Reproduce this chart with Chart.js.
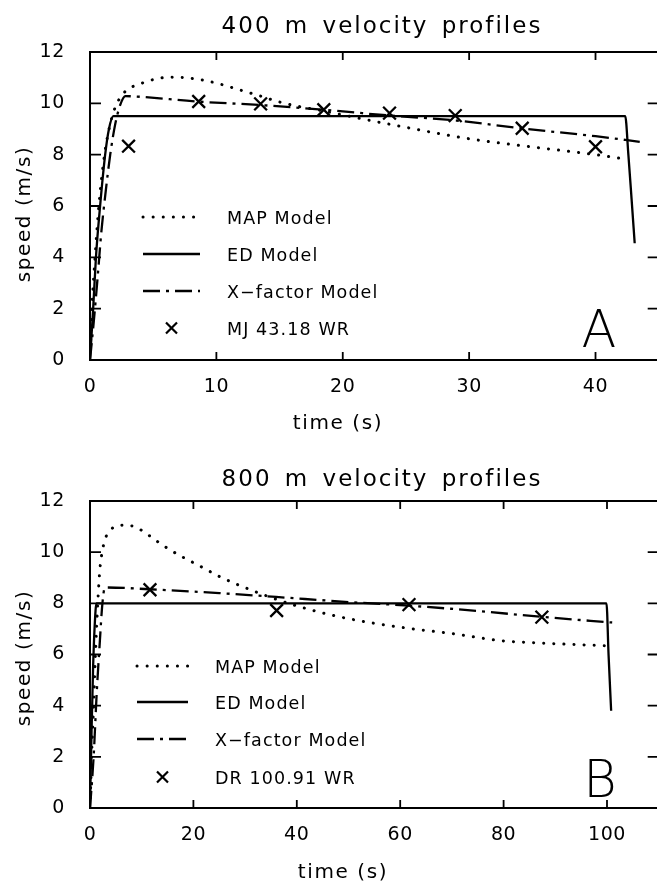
<!DOCTYPE html>
<html>
<head>
<meta charset="utf-8">
<script src="https://cdn.jsdelivr.net/npm/chart.js@4.4.1/dist/chart.umd.min.js"></script>
<style>
  html, body { margin: 0; padding: 0; overflow: hidden; background: #fff; width: 657px; height: 883px; }
  canvas { display: block; }
</style>
</head>
<body>
<canvas id="c400" width="670" height="440"></canvas>
<canvas id="c800" width="670" height="443"></canvas>
<script>
// ---- 400 m (panel A) ----
const map400Time  = [0, 0.15, 0.4, 0.7, 1.15, 1.6, 2.0, 2.5, 3.0, 3.6, 4.2, 5.2, 6.3, 7.5, 9, 10.5, 12, 13.5, 15, 16.5, 18.3, 20, 22, 24.4, 26, 28.4, 30, 32, 34, 36, 38.4, 40, 42.5];
const map400Speed = [0, 2, 4, 6, 8, 9.2, 9.85, 10.3, 10.55, 10.7, 10.8, 10.95, 11.02, 11.0, 10.9, 10.72, 10.5, 10.28, 10.05, 9.88, 9.72, 9.55, 9.35, 9.12, 8.97, 8.75, 8.62, 8.48, 8.36, 8.24, 8.1, 8.0, 7.82];
const ed400Time   = [0, 0.25, 0.47, 0.8, 1.2, 1.5, 1.85, 42.35, 42.6, 42.85, 43.1];
const ed400Speed  = [0, 2, 4, 6, 8, 9, 9.5, 9.5, 8, 6.3, 4.55];
const xf400Time   = [0, 0.3, 0.6, 0.9, 1.25, 1.6, 2.0, 2.4, 2.8, 3.5, 8.5, 13.6, 18.5, 23.8, 29, 34.2, 40, 43.5];
const xf400Speed  = [0, 1.5, 3.2, 5, 6.6, 8, 9.2, 9.95, 10.28, 10.27, 10.07, 9.93, 9.75, 9.52, 9.33, 9.02, 8.72, 8.5];
const wr400Time   = [3.05, 8.6, 13.5, 18.5, 23.7, 28.9, 34.2, 40.0];
const wr400Speed  = [8.33, 10.07, 9.98, 9.75, 9.62, 9.52, 9.03, 8.31];

// ---- 800 m (panel B) ----
const map800Time  = [0, 0.4, 0.7, 1.05, 1.5, 1.9, 2.3, 3, 4, 5.5, 7, 8.5, 10, 12.8, 15, 18, 21.8, 25, 31.4, 35, 40, 47.2, 55, 62.5, 70, 79.5, 85, 90, 95, 100];
const map800Speed = [0, 2.5, 4, 6, 8, 9.3, 9.95, 10.55, 10.88, 11.03, 11.06, 11.0, 10.85, 10.45, 10.15, 9.8, 9.4, 9.05, 8.5, 8.23, 7.9, 7.52, 7.22, 7.0, 6.82, 6.54, 6.47, 6.42, 6.38, 6.34];
const ed800Time   = [0, 0.3, 0.6, 0.9, 1.25, 99.9, 100.3, 100.8];
const ed800Speed  = [0, 3, 5.5, 7.1, 8.0, 8.0, 6.0, 3.8];
const xf800Time   = [0, 0.7, 1.3, 1.9, 2.4, 2.9, 11.6, 25, 36, 50, 61.7, 75, 87.4, 101];
const xf800Speed  = [0, 2, 4.5, 6.5, 8, 8.62, 8.55, 8.4, 8.25, 8.05, 7.91, 7.7, 7.47, 7.25];
const wr800Time   = [11.6, 36.1, 61.7, 87.4];
const wr800Speed  = [8.53, 7.72, 7.95, 7.46];

const speedTicks = [0, 2, 4, 6, 8, 10, 12];

const FONT = '"DejaVu Sans", sans-serif';

function pts(t, v) { return t.map((x, i) => ({ x: x, y: v[i] })); }

// frame, inward ticks, titles, legend and panel letter
const decor = {
  id: 'decor',
  beforeDraw(chart) {
    chart.ctx.letterSpacing = '0.6px';
  },
  afterDraw(chart, args, o) {
    const { ctx, chartArea: a, scales: { x, y } } = chart;
    ctx.save();
    ctx.strokeStyle = '#000';
    ctx.fillStyle = '#000';
    ctx.setLineDash([]);
    ctx.lineWidth = 2;
    ctx.strokeRect(a.left, a.top, a.right - a.left, a.bottom - a.top);

    ctx.lineWidth = 1.8;
    ctx.beginPath();
    x.ticks.forEach(t => {
      if (t.value <= x.min || t.value >= x.max) return;
      const px = x.getPixelForValue(t.value);
      ctx.moveTo(px, a.bottom); ctx.lineTo(px, a.bottom - 8);
      ctx.moveTo(px, a.top); ctx.lineTo(px, a.top + 8);
    });
    y.ticks.forEach(t => {
      if (t.value <= y.min || t.value >= y.max) return;
      const py = y.getPixelForValue(t.value);
      ctx.moveTo(a.left, py); ctx.lineTo(a.left + 11, py);
      ctx.moveTo(a.right, py); ctx.lineTo(a.right - 11, py);
    });
    ctx.stroke();

    // title
    ctx.textAlign = 'center';
    ctx.textBaseline = 'alphabetic';
    ctx.font = '23px ' + FONT;
    ctx.letterSpacing = '2px';
    ctx.wordSpacing = '4px';
    ctx.fillText(o.title, o.titleX, o.titleY);
    ctx.wordSpacing = '0px';

    // axis titles
    ctx.font = '20px ' + FONT;
    ctx.letterSpacing = '1.6px';
    ctx.fillText('time (s)', o.xTitleX, o.xTitleY);
    ctx.save();
    ctx.translate(30, o.yTitleY);
    ctx.rotate(-Math.PI / 2);
    ctx.fillText('speed (m/s)', 0, 0);
    ctx.restore();

    // legend
    ctx.textAlign = 'left';
    ctx.font = '17.5px ' + FONT;
    ctx.letterSpacing = '1.1px';
    chart.data.datasets.forEach((ds, i) => {
      const yy = a.top + o.legendY[i];
      const x1 = a.left + o.legendX1, x2 = a.left + o.legendX2;
      if (ds.showLine === false) {
        const cx = (x1 + x2) / 2, s = 5.5;
        ctx.setLineDash([]);
        ctx.lineWidth = 2.2;
        ctx.beginPath();
        ctx.moveTo(cx - s, yy - s); ctx.lineTo(cx + s, yy + s);
        ctx.moveTo(cx - s, yy + s); ctx.lineTo(cx + s, yy - s);
        ctx.stroke();
      } else {
        ctx.setLineDash(ds.borderDash || []);
        ctx.lineCap = ds.borderCapStyle || 'butt';
        ctx.lineWidth = ds.borderWidth;
        ctx.beginPath();
        ctx.moveTo(x1, yy); ctx.lineTo(x2, yy);
        ctx.stroke();
        ctx.lineCap = 'butt';
      }
      ctx.fillText(ds.label, a.left + o.legendText, yy + 6.5);
    });

    // panel letter
    ctx.textAlign = 'center';
    ctx.letterSpacing = '0px';
    ctx.font = '200 51px ' + FONT;
    ctx.fillText(o.panel, o.panelX, o.panelY);
    ctx.restore();
  }
};

function makeChart(id, cfg) {
  const datasets = [
    { label: 'MAP Model', data: pts(cfg.map[0], cfg.map[1]), borderColor: '#000', borderWidth: 3,
      borderDash: [0.1, 10], borderCapStyle: 'round', pointRadius: 0, cubicInterpolationMode: 'monotone' },
    { label: 'ED Model', data: pts(cfg.ed[0], cfg.ed[1]), borderColor: '#000', borderWidth: 2.3,
      pointRadius: 0, cubicInterpolationMode: 'monotone' },
    { label: 'X\u2212factor Model', data: pts(cfg.xf[0], cfg.xf[1]), borderColor: '#000', borderWidth: 2.3,
      borderDash: [17, 6, 3, 6], pointRadius: 0, cubicInterpolationMode: 'monotone' },
    { label: cfg.wrLabel, data: pts(cfg.wr[0], cfg.wr[1]), showLine: false, borderColor: '#000',
      backgroundColor: '#000', pointStyle: 'crossRot', pointRadius: 9, pointBorderWidth: 2.3 }
  ];
  return new Chart(document.getElementById(id), {
    type: 'line',
    data: { datasets: datasets },
    plugins: [decor],
    options: {
      responsive: false,
      animation: false,
      layout: { padding: { top: cfg.padTop, right: 9, left: 0, bottom: 0 } },
      plugins: {
        legend: { display: false },
        tooltip: { enabled: false },
        decor: cfg.decor
      },
      scales: {
        x: {
          type: 'linear', min: 0, max: cfg.xMax,
          ticks: { stepSize: cfg.xStep, color: '#000', padding: 16, maxRotation: 0,
                   font: { family: FONT, size: 19 } },
          grid: { display: false, drawTicks: false },
          border: { display: false },
          afterBuildTicks: s => { s.ticks = s.ticks.filter(t => t.value % cfg.xStep === 0 && t.value < cfg.xMax); },
          afterFit: s => { s.height = cfg.xHeight; }
        },
        y: {
          type: 'linear', min: 0, max: 12,
          ticks: { stepSize: 2, color: '#000', padding: 25,
                   font: { family: FONT, size: 19 } },
          grid: { display: false, drawTicks: false },
          border: { display: false },
          afterBuildTicks: s => { s.ticks = speedTicks.map(v => ({ value: v })); },
          afterFit: s => { s.width = 90; }
        }
      }
    }
  });
}

makeChart('c400', {
  map: [map400Time, map400Speed], ed: [ed400Time, ed400Speed],
  xf: [xf400Time, xf400Speed], wr: [wr400Time, wr400Speed],
  wrLabel: 'MJ 43.18 WR', xMax: 45, xStep: 10, padTop: 52, xHeight: 80,
  decor: { title: '400 m velocity profiles', titleX: 382, titleY: 33,
           xTitleX: 338, xTitleY: 429, yTitleY: 214,
           legendY: [165, 202, 239, 276], legendX1: 53, legendX2: 110, legendText: 137,
           panel: 'A', panelX: 599, panelY: 347 }
});

makeChart('c800', {
  map: [map800Time, map800Speed], ed: [ed800Time, ed800Speed],
  xf: [xf800Time, xf800Speed], wr: [wr800Time, wr800Speed],
  wrLabel: 'DR 100.91 WR', xMax: 110, xStep: 20, padTop: 61, xHeight: 75,
  decor: { title: '800 m velocity profiles', titleX: 382, titleY: 46,
           xTitleX: 343, xTitleY: 438, yTitleY: 218,
           legendY: [165, 201, 238, 276], legendX1: 47, legendX2: 98, legendText: 125,
           panel: 'B', panelX: 600, panelY: 357 }
});
</script>
</body>
</html>
